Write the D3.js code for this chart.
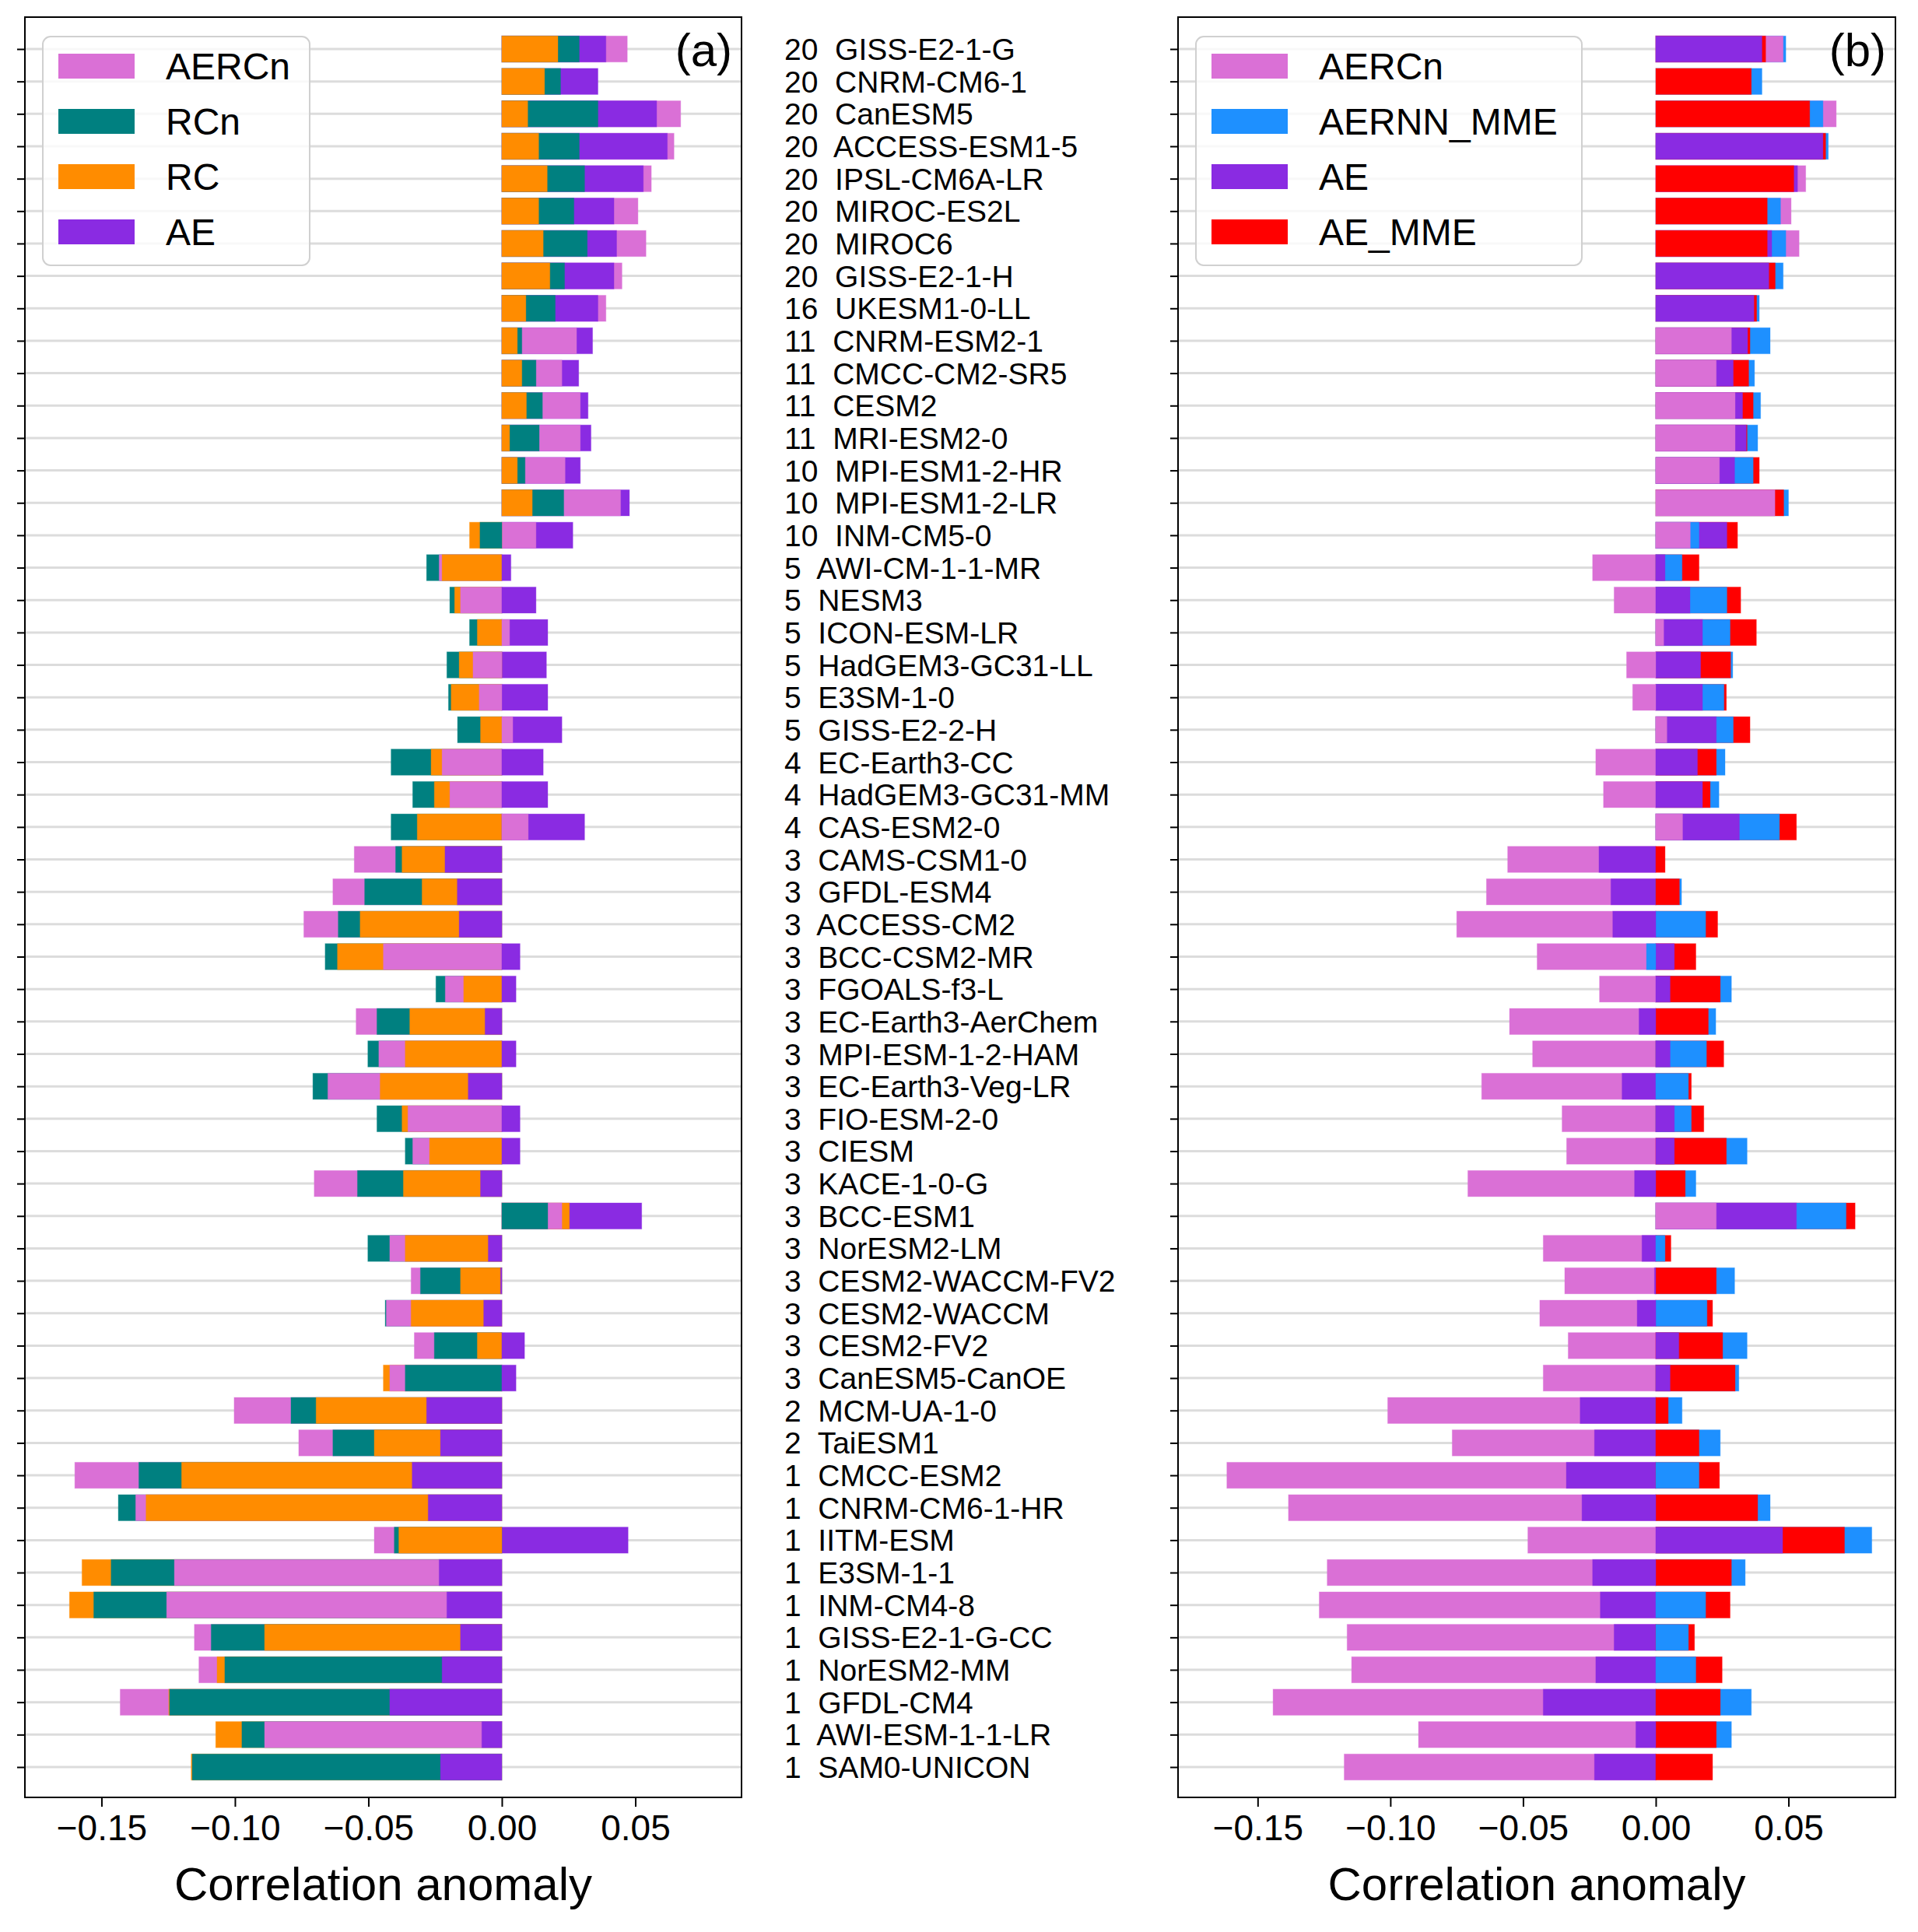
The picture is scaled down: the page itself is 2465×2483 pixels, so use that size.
<!DOCTYPE html>
<html>
<head>
<meta charset="utf-8">
<script src="https://cdn.jsdelivr.net/npm/d3@7"></script>
<style>
body { margin: 0; background: #fff; }
text { font-family: "Liberation Sans", Arial, sans-serif; }
</style>
</head>
<body>
<div id="chart"></div>
<script>
// model names and ensemble sizes (top to bottom)
const ens = [20,20,20,20,20,20,20,20,16,11,11,11,11,10,10,10,5,5,5,5,5,5,4,4,4,
  3,3,3,3,3,3,3,3,3,3,3,3,3,3,3,3,3,2,2,1,1,1,1,1,1,1,1,1,1];
const models = ["GISS-E2-1-G","CNRM-CM6-1","CanESM5","ACCESS-ESM1-5","IPSL-CM6A-LR","MIROC-ES2L",
  "MIROC6","GISS-E2-1-H","UKESM1-0-LL","CNRM-ESM2-1","CMCC-CM2-SR5","CESM2","MRI-ESM2-0",
  "MPI-ESM1-2-HR","MPI-ESM1-2-LR","INM-CM5-0","AWI-CM-1-1-MR","NESM3","ICON-ESM-LR",
  "HadGEM3-GC31-LL","E3SM-1-0","GISS-E2-2-H","EC-Earth3-CC","HadGEM3-GC31-MM","CAS-ESM2-0",
  "CAMS-CSM1-0","GFDL-ESM4","ACCESS-CM2","BCC-CSM2-MR","FGOALS-f3-L","EC-Earth3-AerChem",
  "MPI-ESM-1-2-HAM","EC-Earth3-Veg-LR","FIO-ESM-2-0","CIESM","KACE-1-0-G","BCC-ESM1",
  "NorESM2-LM","CESM2-WACCM-FV2","CESM2-WACCM","CESM2-FV2","CanESM5-CanOE","MCM-UA-1-0",
  "TaiESM1","CMCC-ESM2","CNRM-CM6-1-HR","IITM-ESM","E3SM-1-1","INM-CM4-8","GISS-E2-1-G-CC",
  "NorESM2-MM","GFDL-CM4","AWI-ESM-1-1-LR","SAM0-UNICON"];

// panel (a)
const aercnA = [.047,0,.067,.0645,.056,.051,.054,.045,.039,.028,.0225,.0294,.0294,.0237,.0445,.0128,
  -.0235,-.0155,.0029,-.0108,-.0085,.0041,-.0224,-.0195,.0099,-.0553,-.0633,-.0742,-.0444,-.0212,
  -.0546,-.0461,-.0652,-.0352,-.0334,-.0703,.0225,-.042,-.034,-.0433,-.0328,-.042,-.1003,-.0761,
  -.160,-.1372,-.0478,-.1227,-.1256,-.1152,-.1135,-.143,-.0889,0];
const rcnA = [.029,.022,.036,.029,.031,.027,.032,.0235,.020,.0075,.0128,.0152,.014,.0087,.0232,-.0082,
  -.0282,-.0195,-.0121,-.0206,-.020,-.0166,-.0415,-.0334,-.0415,-.0398,-.0514,-.0613,-.0662,-.0247,
  -.0468,-.0502,-.0708,-.0468,-.0362,-.0541,.0172,-.0502,-.0305,-.0437,-.0253,-.0362,-.079,-.0633,
  -.136,-.1437,-.0403,-.1464,-.1529,-.1089,-.1038,-.1245,-.0974,-.116];
const rcA = [.021,.016,.0097,.0138,.017,.0138,.0155,.018,.009,.0058,.0075,.0092,.0029,.0058,.0114,-.0121,
  -.0224,-.0177,-.0092,-.016,-.019,-.008,-.0265,-.0253,-.0317,-.0374,-.0299,-.0531,-.0616,-.0143,
  -.0345,-.0362,-.0456,-.0374,-.0271,-.0369,.0253,-.0362,-.0155,-.034,-.0092,-.0444,-.0696,-.0478,
  -.120,-.1333,-.0386,-.1573,-.162,-.0889,-.1067,-.1248,-.1072,-.1164];
const aeA = [.039,.036,.058,.062,.053,.042,.043,.042,.036,.034,.0288,.0323,.0334,.0294,.0478,.0266,
  .0034,.0128,.0172,.0167,.0172,.0225,.0155,.0172,.031,-.0213,-.0167,-.016,.0068,.0053,
  -.0063,.0053,-.0126,.0068,.0068,-.008,.0524,-.0051,-.0005,-.0068,.0085,.0053,-.0282,-.023,
  -.0336,-.0276,.0473,-.0235,-.0206,-.0155,-.0224,-.042,-.0075,-.023];

// panel (b)
const aercnB = [.048,0,.068,0,.0565,.051,.054,0,0,.0285,.0228,.0299,.0299,.024,.0449,.013,
  -.0238,-.0157,.003,-.011,-.0087,.0042,-.0226,-.0197,.0101,-.0558,-.0638,-.075,-.0447,-.0212,
  -.0551,-.0464,-.0656,-.0353,-.0336,-.0708,.0228,-.0424,-.0343,-.0437,-.033,-.0424,-.101,-.0767,
  -.1616,-.1384,-.0482,-.1238,-.1268,-.1163,-.1146,-.1442,-.0894,-.1174];
const aernnB = [.049,.040,.063,.065,0,.047,.049,.048,.039,.0431,.0372,.0395,.0384,.0367,.050,.0163,
  .0099,.0268,.028,.029,.0257,.0292,.0261,.0238,.0466,0,.0097,.0188,-.0035,.0285,
  .0226,.0191,.0123,.0134,.0344,.0151,.0717,.0035,.0297,.0193,.0344,.0313,.0099,.0243,
  .0163,.0431,.0814,.0337,.0188,.0123,.0151,.036,.0285,0];
const aeB = [.040,0,0,.063,.0534,0,.0437,.0426,.037,.0346,.0292,.0327,.0341,.0297,0,.0268,
  .0035,.0129,.0176,.0169,.0176,.0228,.0157,.0176,.0315,-.0214,-.0169,-.0162,.007,.0054,
  -.0063,.0054,-.0127,.007,.007,-.008,.053,-.0052,-.0005,-.007,.0087,.0054,-.0285,-.0231,
  -.0337,-.0278,.0478,-.0238,-.0209,-.0157,-.0226,-.0424,-.0075,-.0231];
const aemmeB = [.0414,.036,.058,.064,.052,.042,.042,.045,.038,.0355,.035,.0367,.0344,.039,.0482,.0308,
  .0163,.032,.0379,.0282,.0266,.0355,.0228,.0205,.053,.0035,.0089,.0233,.0151,.0243,
  .0198,.0256,.0134,.0181,.0266,.0111,.0751,.0057,.0228,.0214,.0252,.0299,.0047,.0163,
  .024,.0384,.0711,.0285,.028,.0146,.025,.0243,.0228,.0214];

const xTicks = [-0.15, -0.10, -0.05, 0.00, 0.05];

const W = 2465, H = 2483;
const svg = d3.select("#chart").append("svg").attr("width", W).attr("height", H);

const y = d3.scalePoint().domain(d3.range(models.length)).range([63, 2271]);
const barH = 33.5;
const plotTop = 22, plotBottom = 2310;

function panel(opts) {
    const x = d3.scaleLinear().domain(opts.domain).range([opts.left, opts.right]);
    const g = svg.append("g");

    // grid lines
    g.selectAll(".grid").data(d3.range(models.length)).join("line")
        .attr("x1", opts.left).attr("x2", opts.right)
        .attr("y1", d => y(d)).attr("y2", d => y(d))
        .attr("stroke", "#dcdcdc").attr("stroke-width", 3);

    // overlapping bars, biggest drawn first
    const rows = [];
    models.forEach((m, i) => {
        const vals = opts.series.map(s => ({ v: s.data[i], color: s.color, i }));
        vals.sort((a, b) => Math.abs(b.v) - Math.abs(a.v));
        vals.forEach(d => rows.push(d));
    });
    g.selectAll(".bar").data(rows.filter(d => d.v !== 0)).join("rect")
        .attr("x", d => Math.min(x(0), x(d.v)))
        .attr("width", d => Math.abs(x(d.v) - x(0)))
        .attr("y", d => y(d.i) - barH / 2)
        .attr("height", barH)
        .attr("fill", d => d.color)
        .attr("stroke", d => d.color).attr("stroke-opacity", 0.35).attr("stroke-width", 1);

    // x axis
    const xAxis = g.append("g")
        .attr("transform", `translate(0, ${plotBottom})`)
        .call(d3.axisBottom(x).tickValues(xTicks).tickSize(12).tickPadding(10));
    xAxis.select(".domain").remove();
    xAxis.selectAll("line").attr("stroke-width", 2);
    xAxis.selectAll("text").attr("font-size", 46)
        .text(d => d3.format(".2f")(d).replace("-", "\u2212"));

    // y ticks
    const yAxis = g.append("g")
        .attr("transform", `translate(${opts.left}, 0)`)
        .call(d3.axisLeft(y).tickSize(10).tickFormat(""));
    yAxis.select(".domain").remove();
    yAxis.selectAll("line").attr("stroke-width", 2);

    // frame
    g.append("rect").attr("x", opts.left).attr("y", plotTop)
        .attr("width", opts.right - opts.left).attr("height", plotBottom - plotTop)
        .attr("fill", "none").attr("stroke", "#000").attr("stroke-width", 2);

    g.append("text").attr("x", (opts.left + opts.right) / 2).attr("y", 2442)
        .attr("text-anchor", "middle").attr("font-size", 60).text("Correlation anomaly");

    g.append("text").attr("x", opts.right - 12).attr("y", 85)
        .attr("text-anchor", "end").attr("font-size", 60).text(opts.tag);

    // legend
    const lg = g.append("g");
    lg.append("rect").attr("x", opts.legX).attr("y", 47)
        .attr("width", opts.legW).attr("height", 294).attr("rx", 10)
        .attr("fill", "#fff").attr("fill-opacity", 0.8).attr("stroke", "#d0d0d0").attr("stroke-width", 2);
    opts.series.forEach((s, k) => {
        const cy = 85 + k * 71;
        lg.append("rect").attr("x", opts.legX + 20).attr("y", cy - 16)
            .attr("width", 98).attr("height", 32).attr("fill", s.color);
        lg.append("text").attr("x", opts.legX + 158).attr("y", cy + 17)
            .attr("font-size", 48).text(s.name);
    });
}

panel({
    left: 32, right: 953, domain: [-0.1787, 0.0898], tag: "(a)", legX: 55, legW: 343,
    series: [
        { name: "AERCn", data: aercnA, color: "orchid" },
        { name: "RCn", data: rcnA, color: "teal" },
        { name: "RC", data: rcA, color: "darkorange" },
        { name: "AE", data: aeA, color: "blueviolet" }
    ]
});

panel({
    left: 1514, right: 2436, domain: [-0.180, 0.0903], tag: "(b)", legX: 1537, legW: 496,
    series: [
        { name: "AERCn", data: aercnB, color: "orchid" },
        { name: "AERNN_MME", data: aernnB, color: "dodgerblue" },
        { name: "AE", data: aeB, color: "blueviolet" },
        { name: "AE_MME", data: aemmeB, color: "red" }
    ]
});

// model labels in the middle column
svg.append("g").selectAll("text").data(models).join("text")
    .attr("x", 1008).attr("y", (d, i) => y(i))
    .attr("dy", "0.36em").attr("font-size", 39)
    .style("white-space", "pre")
    .text((d, i) => `${ens[i]}  ${d}`);
</script>
</body>
</html>
